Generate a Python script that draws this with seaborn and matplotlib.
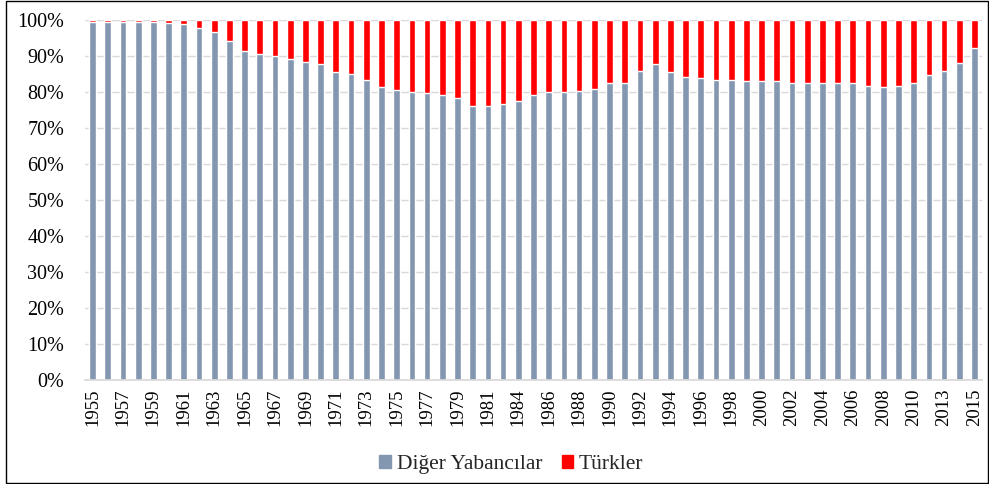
import pandas as pd
import matplotlib.pyplot as plt
import seaborn as sns
from matplotlib.patches import Patch, Rectangle
from matplotlib.ticker import FuncFormatter

# Years shown on the chart (1983 and 2012 are not in the series)
years = [str(y) for y in range(1955, 1983)] + [str(y) for y in range(1984, 2012)] + ["2013", "2014", "2015"]

# Share of other foreigners (%), the rest is Turks
diger = [99.5, 99.5, 99.5, 99.5, 99.5, 99.3, 98.9, 97.7, 96.8, 94.2,
         91.5, 90.5, 89.9, 89.3, 88.3, 87.7, 85.5, 84.9, 83.3, 81.5,
         80.5, 79.9, 79.6, 79.3, 78.3, 76.1, 76.1, 76.8, 77.4, 79.2,
         79.9, 79.9, 80.2, 80.8, 82.4, 82.6, 85.8, 87.7, 85.5, 84.3,
         83.9, 83.3, 83.3, 83.0, 83.0, 83.0, 82.4, 82.4, 82.4, 82.4,
         82.4, 81.8, 81.4, 81.8, 82.6, 84.6, 85.8, 88.0, 92.1]
total = [100.0] * len(years)

gray = "#8497B0"
red = "#FF0000"


def make_chart():
    sns.set_theme(style="white")
    plt.rcParams['font.family'] = ['Liberation Serif', 'DejaVu Serif']

    df = pd.DataFrame({"year": years, "diger": diger, "total": total})

    fig = plt.figure(figsize=(9.89, 4.84), dpi=100)
    ax = fig.add_axes([0.0859, 0.2149, 0.9071, 0.7438])

    # red bars for the full 100%, gray bars on top of them
    sns.barplot(data=df, x="year", y="total", color=red, width=0.44, ax=ax, saturation=1)
    sns.barplot(data=df, x="year", y="diger", color=gray, width=0.44, ax=ax, saturation=1)

    ax.set_ylim(0, 100)
    ax.set_xlim(-0.5, len(years) - 0.5)
    ax.set_yticks(range(0, 101, 10))
    ax.yaxis.set_major_formatter(FuncFormatter(lambda v, p: f"{int(v)}%"))
    ax.yaxis.grid(True, color="#D9D9D9", linewidth=1)
    ax.set_axisbelow(True)

    pos = list(range(0, len(years), 2))
    ax.set_xticks(pos)
    ax.set_xticklabels([years[i] for i in pos], rotation=90)
    ax.tick_params(axis="both", length=0, colors="#000000")
    ax.tick_params(axis="y", pad=15, labelsize=14.5)
    ax.tick_params(axis="x", pad=6, labelsize=13.5)
    ax.set_xlabel("")
    ax.set_ylabel("")

    for side in ["top", "right", "left"]:
        ax.spines[side].set_visible(False)
    ax.spines["bottom"].set_color("#D9D9D9")

    handles = [Patch(color=gray, label="Diğer Yabancılar"), Patch(color=red, label="Türkler")]
    fig.legend(handles=handles, loc="center", bbox_to_anchor=(0.517, 0.04), ncol=2,
               frameon=False, fontsize=15.5, handlelength=0.55, handleheight=0.55,
               handletextpad=0.25, columnspacing=0.9)

    # outer frame of the chart
    fig.patches.append(Rectangle((6 / 989, 1 / 484), 982 / 989, 482 / 484, transform=fig.transFigure,
                                 fill=False, edgecolor="#000000", linewidth=1))

    fig.savefig("out.png", dpi=100)


if __name__ == "__main__":
    make_chart()
